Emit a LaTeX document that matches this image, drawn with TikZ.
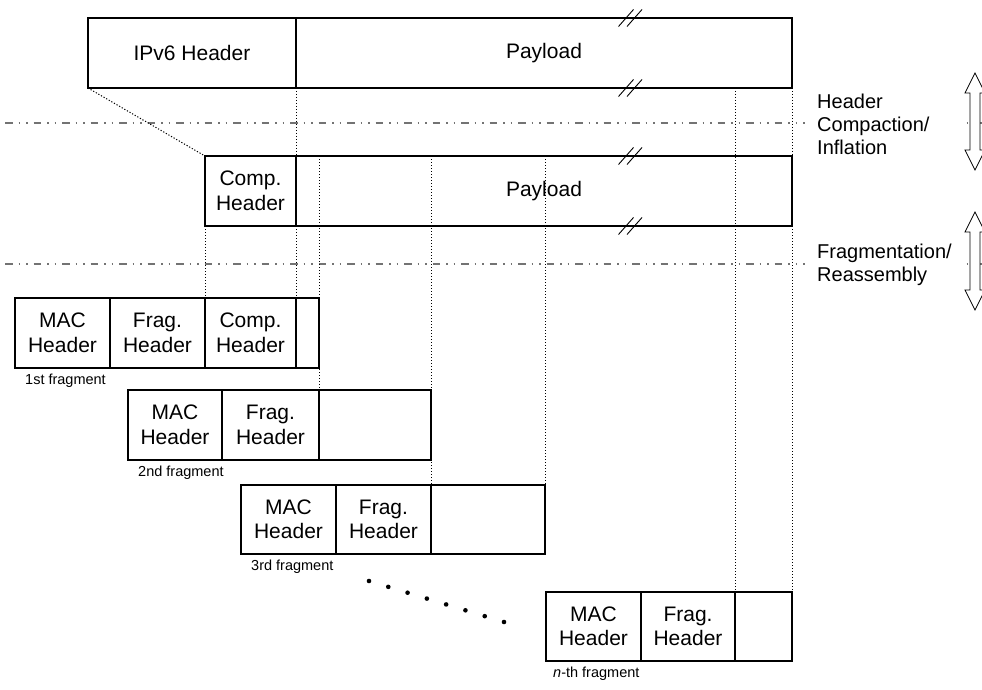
\documentclass[tikz,border=0pt]{standalone}
\usepackage{fontspec}
\setmainfont{Liberation Sans}
\begin{document}
\begin{tikzpicture}[x=1pt,y=-1pt,
  cell/.style={draw, line width=1.2pt, inner sep=0pt, outer sep=0pt, anchor=north west,
    align=center, font=\fontsize{21}{24.5}\selectfont},
  dotl/.style={line width=1pt, black, dash pattern=on 1.2pt off 1.8pt},
  sepline/.style={line width=1.4pt, black!55, dash pattern=on 7.5pt off 6pt on 1.5pt off 6pt on 1.5pt off 6pt},
  brk/.style={line width=0.9pt},
  flabel/.style={font=\fontsize{14.5}{17}\selectfont, anchor=base west, inner sep=0pt},
  side/.style={fill=white, anchor=west, align=left, text width=136pt, inner xsep=12pt, inner ysep=3pt,
    font=\fontsize{20}{23}\selectfont},
  darrow/.style={draw=black, fill=white, line width=0.8pt, line join=miter}
]
\useasboundingbox (0,0) rectangle (982,690);

% separation lines
\coordinate (s1a) at (5,123);
\coordinate (s1b) at (982,123);
\coordinate (s2a) at (5,264);
\coordinate (s2b) at (982,264);
\draw[sepline] (s1a) -- (s1b);
\draw[sepline] (s2a) -- (s2b);

% row 1
\node[cell, minimum width=208pt, minimum height=70pt] (ipv6) at (88,18) {IPv6 Header};
\node[cell, minimum width=496pt, minimum height=70pt] (pay1) at (296,18) {Payload};
% row 2
\node[cell, minimum width=91pt, minimum height=70pt] (comp) at (205,156) {Comp.\\Header};
\node[cell, minimum width=496pt, minimum height=70pt] (pay2) at (296,156) {Payload};

% fragment 1
\node[cell, minimum width=95pt, minimum height=70pt] (mac1) at (15,298) {MAC\\Header};
\node[cell, minimum width=95pt, minimum height=70pt] (frag1) at (110,298) {Frag.\\Header};
\node[cell, minimum width=91pt, minimum height=70pt] (comp1) at (205,298) {Comp.\\Header};
\node[cell, minimum width=23pt, minimum height=70pt] (p1) at (296,298) {};
% fragment 2
\node[cell, minimum width=94pt, minimum height=70pt] (mac2) at (128,390) {MAC\\Header};
\node[cell, minimum width=97pt, minimum height=70pt] (frag2) at (222,390) {Frag.\\Header};
\node[cell, minimum width=112pt, minimum height=70pt] (p2) at (319,390) {};
% fragment 3
\node[cell, minimum width=95pt, minimum height=69pt] (mac3) at (241,485) {MAC\\Header};
\node[cell, minimum width=95pt, minimum height=69pt] (frag3) at (336,485) {Frag.\\Header};
\node[cell, minimum width=114pt, minimum height=69pt] (p3) at (431,485) {};
% fragment n
\node[cell, minimum width=95pt, minimum height=69pt] (macn) at (546,592) {MAC\\Header};
\node[cell, minimum width=94pt, minimum height=69pt] (fragn) at (641,592) {Frag.\\Header};
\node[cell, minimum width=57pt, minimum height=69pt] (pn) at (735,592) {};

% fragment labels
\node[flabel] (l1) at ([xshift=10pt, yshift=-16pt]mac1.south west) {1st fragment};
\node[flabel] (l2) at ([xshift=10pt, yshift=-16pt]mac2.south west) {2nd fragment};
\node[flabel] (l3) at ([xshift=10pt, yshift=-16pt]mac3.south west) {3rd fragment};
\node[flabel] (ln) at ([xshift=7pt, yshift=-16pt]macn.south west) {\textit{n}-th fragment};

% dotted guide lines
\draw[dotl] (ipv6.south west) -- (comp.north west);
\draw[dotl] (ipv6.south east) -- (comp.north east);
\draw[dotl] (comp.south east) -- (comp1.north east);
\draw[dotl] (comp.south west) -- (comp1.north west);
\draw[dotl] (pay2.north -| p1.east) -- (p2.north west);
\draw[dotl] (pay2.north -| p2.east) -- (p3.north west);
\draw[dotl] (pay2.north -| p3.east) -- (p3.north east);
\draw[dotl] (pay1.south -| pn.west) -- (pn.north west);
\draw[dotl] (pay1.south east) -- (pn.north east);

% break marks
\foreach \yy in {18,88,156,226}{
  \draw[brk] (618.5,\yy+8.5) -- (633.5,\yy-8.5);
  \draw[brk] (627,\yy+8.5) -- (642,\yy-8.5);
}

% dots
\foreach \i in {0,...,7}{
  \fill ({369+\i*135/7},{581+\i*41/7}) circle (2.3pt);
}

% side labels
\node[side] (hc) at (805,124) {Header\\Compaction/\\Inflation};
\node[side] (fr) at (805,264.5) {Fragmentation/\\Reassembly};

% double arrows
\draw[darrow] (975,73) -- (985,93) -- (980,93) -- (980,150) -- (985,150) -- (975,170)
  -- (965,150) -- (970,150) -- (970,93) -- (965,93) -- cycle;
\draw[darrow] (975,212) -- (985,232) -- (980,232) -- (980,290) -- (985,290) -- (975,310)
  -- (965,290) -- (970,290) -- (970,232) -- (965,232) -- cycle;
\end{tikzpicture}
\end{document}
